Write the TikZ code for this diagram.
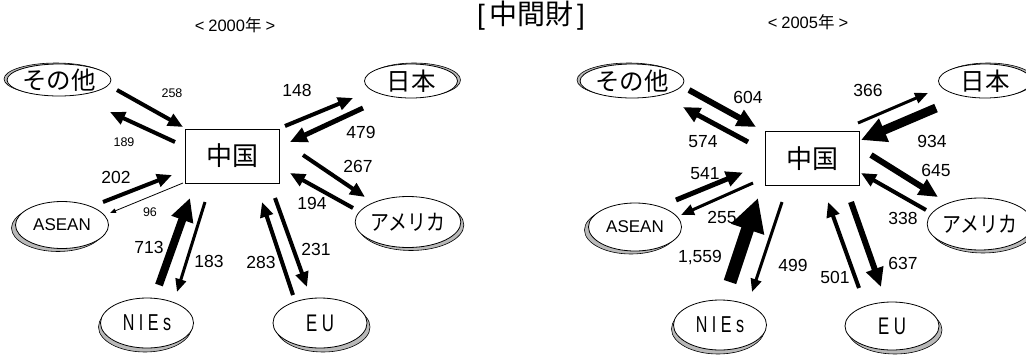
\documentclass[tikz,border=0pt]{standalone}
\usepackage{fontspec}
\setmainfont{Liberation Sans}
\newfontfamily\cjk{Noto Sans CJK JP}
\usetikzlibrary{arrows.meta,shapes.geometric,shadows,calc}
\begin{document}
\begin{tikzpicture}[x=1pt,y=-1pt,
  ell/.style={ellipse, draw=black, line width=0.8pt, fill=white, inner sep=0pt},
  shUL/.style={copy shadow={shadow xshift=-3pt, shadow yshift=1pt, fill=gray!55, draw=black, line width=0.6pt}},
  shUR/.style={copy shadow={shadow xshift=3pt, shadow yshift=1pt, fill=gray!55, draw=black, line width=0.6pt}},
  shLL/.style={copy shadow={shadow xshift=-4pt, shadow yshift=-3pt, fill=gray!55, draw=black, line width=0.6pt}},
  shLR/.style={copy shadow={shadow xshift=3pt, shadow yshift=-3pt, fill=gray!55, draw=black, line width=0.6pt}},
  shB/.style={copy shadow={shadow xshift=-2pt, shadow yshift=-4pt, fill=gray!55, draw=black, line width=0.6pt}},
  shBR/.style={copy shadow={shadow xshift=3pt, shadow yshift=-4pt, fill=gray!55, draw=black, line width=0.6pt}},
  jp/.style={font=\cjk\fontsize{24.5}{26}\selectfont},
  cnbox/.style={draw=black, line width=1pt, minimum width=94pt, minimum height=54pt, inner sep=0pt, font=\cjk\fontsize{26}{28}\selectfont},
  ar/.style={line width=#1, -{Triangle[length=7pt 2, width=4pt 2.2]}},
  thinar/.style={line width=0.8pt, -{Triangle[length=6pt, width=4.5pt]}},
  lab/.style={inner sep=0pt, font=\fontsize{17.5}{19}\selectfont},
  slab/.style={inner sep=0pt, font=\fontsize{12.5}{14}\selectfont},
  yr/.style={inner sep=0pt, font=\fontsize{16.5}{18}\selectfont}
]
\useasboundingbox (0,0) rectangle (1026,354);

% titles
\node[inner sep=0pt, font=\fontsize{28}{30}\selectfont] (title) at (531,16) {[\hspace{4pt}{\cjk 中間財}\hspace{4pt}]};
\node[yr] (y2000) at (235,25) {<\hspace{4pt}2000{\cjk 年}\hspace{4pt}>};
\node[yr] (y2005) at (808,22) {<\hspace{4pt}2005{\cjk 年}\hspace{4pt}>};

% ---------- left (2000) ----------
\node[cnbox] (Lcn) at (232,156) {中国};
\node[ell, shUL, minimum width=90pt, minimum height=32pt, jp] (Lother) at (59,80) {その他};
\node[ell, shUR, minimum width=93pt, minimum height=34pt, jp] (Ljapan) at (411,81) {日本};
\node[ell, shLL, minimum width=93pt, minimum height=47pt, font=\fontsize{17}{19}\selectfont] (LASEAN) at (62,225) {ASEAN};
\node[ell, shLR, minimum width=95pt, minimum height=51pt, font=\cjk\fontsize{22}{24}\selectfont] (Lamerica) at (408,222) {\scalebox{0.86}[1]{アメリカ}};
\node[ell, shB, minimum width=93pt, minimum height=50pt, font=\fontsize{23}{25}\selectfont] (LNIEs) at (147,323) {\scalebox{0.7}[1]{N I E s}};
\node[ell, shBR, minimum width=94pt, minimum height=50pt, font=\fontsize{24}{26}\selectfont] (LEU) at (320,323) {\scalebox{0.7}[1]{E U}};

\draw[ar=4] ($(Lother)+(58,10)$) -- ($(Lcn)+(-49,-29)$);
\draw[ar=4] ($(Lcn)+(-57,-14)$) -- ($(Lother)+(51,32)$);
\draw[ar=4] ($(Lcn)+(53,-30)$) -- ($(Ljapan)+(-58,17)$);
\draw[ar=5] ($(Ljapan)+(-48,27)$) -- ($(Lcn)+(58,-14)$);
\draw[ar=4] ($(Lcn)+(71,-1)$) -- ($(Lamerica)+(-43,-25)$);
\draw[ar=4] ($(Lamerica)+(-55,-14)$) -- ($(Lcn)+(58,17)$);
\draw[ar=4] ($(LASEAN)+(41,-23)$) -- ($(Lcn)+(-60,19)$);
\draw[thinar] ($(Lcn)+(-49,27)$) -- ($(LASEAN)+(48,-12)$);
\draw[ar=8] ($(LNIEs)+(12,-38)$) -- ($(Lcn)+(-42,42)$);
\draw[ar=3] ($(Lcn)+(-27,46)$) -- ($(LNIEs)+(30,-31)$);
\draw[ar=4] ($(LEU)+(-27,-28)$) -- ($(Lcn)+(30,46)$);
\draw[ar=4] ($(Lcn)+(43,42)$) -- ($(LEU)+(-13,-36)$);

\node[slab] (l258) at (172,93) {258};
\node[slab] (l189) at (124,142) {189};
\node[lab] (l148) at (297,90) {148};
\node[lab] (l479) at (361,132) {479};
\node[lab] (l267) at (358,166) {267};
\node[lab] (l194) at (312,203) {194};
\node[lab] (l202) at (116,177) {202};
\node[slab] (l96) at (150,212) {96};
\node[lab] (l713) at (149,247) {713};
\node[lab] (l183) at (209,261) {183};
\node[lab] (l283) at (261,262) {283};
\node[lab] (l231) at (316,249) {231};

% ---------- right (2005) ----------
\node[cnbox] (Rcn) at (812,158.5) {中国};
\node[ell, shUL, minimum width=92pt, minimum height=34pt, jp] (Rother) at (632,81) {その他};
\node[ell, shUR, minimum width=93pt, minimum height=34pt, jp] (Rjapan) at (985,81) {日本};
\node[ell, shLL, minimum width=93pt, minimum height=48pt, font=\fontsize{17}{19}\selectfont] (RASEAN) at (635,227) {ASEAN};
\node[ell, shLR, minimum width=93pt, minimum height=52pt, font=\cjk\fontsize{22}{24}\selectfont] (Ramerica) at (980,224) {\scalebox{0.86}[1]{アメリカ}};
\node[ell, shB, minimum width=93pt, minimum height=50pt, font=\fontsize{23}{25}\selectfont] (RNIEs) at (720,325) {\scalebox{0.7}[1]{N I E s}};
\node[ell, shBR, minimum width=94pt, minimum height=48pt, font=\fontsize{24}{26}\selectfont] (REU) at (892,326) {\scalebox{0.7}[1]{E U}};

\draw[ar=6] ($(Rother)+(57,9)$) -- ($(Rcn)+(-56,-31.5)$);
\draw[ar=5] ($(Rcn)+(-64,-16.5)$) -- ($(Rother)+(51,26)$);
\draw[ar=3] ($(Rcn)+(46,-35.5)$) -- ($(Rjapan)+(-57,12)$);
\draw[ar=9] ($(Rjapan)+(-49,27)$) -- ($(Rcn)+(49,-18.5)$);
\draw[ar=6] ($(Rcn)+(59,-3.5)$) -- ($(Ramerica)+(-42,-27)$);
\draw[ar=4] ($(Ramerica)+(-54,-14)$) -- ($(Rcn)+(49,14.5)$);
\draw[ar=5] ($(RASEAN)+(41,-27)$) -- ($(Rcn)+(-69,14)$);
\draw[ar=3] ($(Rcn)+(-59,24.5)$) -- ($(RASEAN)+(46,-12)$);
\draw[ar=13] ($(RNIEs)+(10,-43)$) -- ($(Rcn)+(-54,39.5)$);
\draw[ar=3] ($(Rcn)+(-30,43.5)$) -- ($(RNIEs)+(32,-33)$);
\draw[ar=4] ($(REU)+(-33,-38)$) -- ($(Rcn)+(16,43.5)$);
\draw[ar=6] ($(Rcn)+(39,43.5)$) -- ($(REU)+(-11,-39)$);

\node[lab] (r604) at (748,97) {604};
\node[lab] (r574) at (703,142) {574};
\node[lab] (r366) at (868,90) {366};
\node[lab] (r934) at (932,141) {934};
\node[lab] (r645) at (936,170) {645};
\node[lab] (r338) at (903,218) {338};
\node[lab] (r541) at (705,174) {541};
\node[lab] (r255) at (722,217) {255};
\node[lab] (r1559) at (700,258) {1,559};
\node[lab] (r499) at (793,265) {499};
\node[lab] (r501) at (835,277) {501};
\node[lab] (r637) at (903,263) {637};
\end{tikzpicture}
\end{document}
